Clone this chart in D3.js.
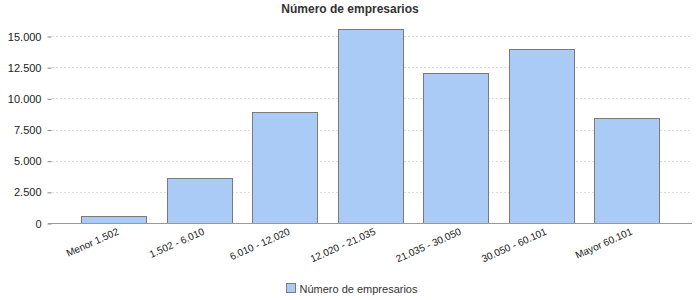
<!DOCTYPE html>
<head>
  <meta charset="utf-8">
  <script src="https://d3js.org/d3.v7.min.js"></script>
  <style>
    body { margin: 0; background: #fff; }
    svg { display: block; font-family: "Liberation Sans", Arial, sans-serif; }
  </style>
</head>
<body>
  <svg width="700" height="300"></svg>
  <script>
    // datos
    var categorias = ['Menor 1.502', '1.502 - 6.010', '6.010 - 12.020', '12.020 - 21.035',
                      '21.035 - 30.050', '30.050 - 60.101', 'Mayor 60.101'];
    var empresarios = [560, 3610, 8900, 15560, 12030, 13960, 8420];
    var yTicks = [0, 2500, 5000, 7500, 10000, 12500, 15000];
    var titulo = 'Número de empresarios';

    var width = 700, height = 300;
    var plot = {left: 52, right: 692, top: 20, bottom: 223};

    var svg = d3.select('svg');

    var x = d3.scaleBand()
      .domain(categorias)
      .range([70.7, 669.8])
      .paddingInner(0.24)
      .paddingOuter(0.12);

    var y = d3.scaleLinear()
      .domain([0, 15000])
      .range([plot.bottom, 36]);

    var fmt = d => d3.format(',')(d).replace(/,/g, '.');

    // rejilla
    svg.append('g')
      .selectAll('line')
      .data(yTicks.filter(d => d > 0))
      .join('line')
      .attr('x1', plot.left).attr('x2', plot.right)
      .attr('y1', d => Math.round(y(d)) + 0.5).attr('y2', d => Math.round(y(d)) + 0.5)
      .attr('stroke', '#dcdcdc')
      .attr('stroke-dasharray', '2,2');

    // eje y
    var ejeY = d3.axisLeft(y).tickValues(yTicks).tickFormat(fmt).tickSize(4).tickPadding(6);
    svg.append('g')
      .attr('transform', 'translate(' + [plot.left - 0.5, 0.5] + ')')
      .call(ejeY)
      .call(g => g.select('.domain').remove())
      .call(g => g.selectAll('line').attr('stroke', '#888'))
      .call(g => g.selectAll('text').attr('fill', '#222').style('font-size', '11px'));

    // barras
    svg.append('g')
      .selectAll('rect')
      .data(empresarios)
      .join('rect')
      .attr('x', (d, i) => Math.round(x(categorias[i])) + 0.5)
      .attr('y', d => Math.round(y(d)) + 0.5)
      .attr('width', Math.round(x.bandwidth()))
      .attr('height', d => Math.round(plot.bottom - y(d)))
      .attr('fill', '#a9cbf5')
      .attr('stroke', '#7a7a7a')
      .attr('stroke-width', 1);

    // línea base
    svg.append('line')
      .attr('x1', plot.left - 4).attr('x2', plot.right)
      .attr('y1', plot.bottom + 0.5).attr('y2', plot.bottom + 0.5)
      .attr('stroke', '#999');

    // etiquetas x
    svg.append('g')
      .selectAll('text')
      .data(categorias)
      .join('text')
      .attr('transform', d => 'translate(' + [x(d) + x.bandwidth() / 2 + 6, plot.bottom + 11] + ') rotate(-24)')
      .attr('text-anchor', 'end')
      .attr('fill', '#222')
      .style('font-size', '10px')
      .text(d => d);

    // título
    svg.append('text')
      .attr('x', 350).attr('y', 13)
      .attr('text-anchor', 'middle')
      .attr('fill', '#333')
      .style('font-size', '12px')
      .style('font-weight', 'bold')
      .text(titulo);

    // leyenda
    var leyenda = svg.append('g').attr('transform', 'translate(286.5, 283.5)');
    leyenda.append('rect')
      .attr('width', 9).attr('height', 9)
      .attr('fill', '#a9cbf5').attr('stroke', '#7a7a7a');
    leyenda.append('text')
      .attr('x', 13).attr('y', 9)
      .attr('fill', '#333')
      .style('font-size', '11px')
      .text(titulo);
  </script>
</body>
